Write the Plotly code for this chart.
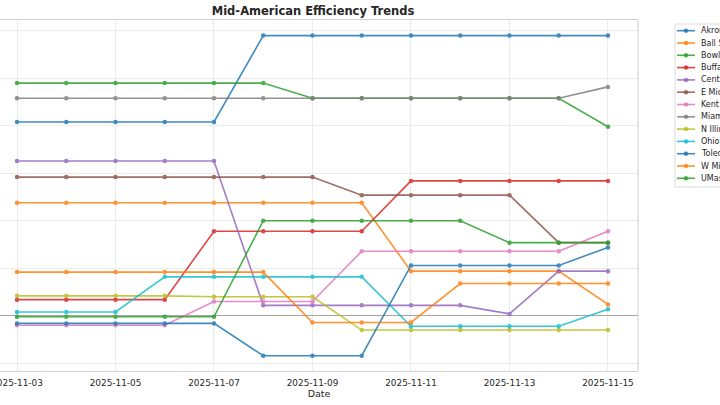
import plotly.graph_objects as go

dates = ["2025-11-03", "2025-11-04", "2025-11-05", "2025-11-06", "2025-11-07",
         "2025-11-08", "2025-11-09", "2025-11-10", "2025-11-11", "2025-11-12",
         "2025-11-13", "2025-11-14", "2025-11-15"]

teams = ["Akron", "Ball State", "Bowling Green", "Buffalo", "Central Michigan",
         "E Michigan", "Kent State", "Miami (OH)", "N Illinois", "Ohio",
         "Toledo", "W Michigan", "UMass"]

akron = [0.204, 0.204, 0.204, 0.204, 0.204, 0.295, 0.295, 0.295, 0.295, 0.295, 0.295, 0.295, 0.295]
ball_state = [0.119, 0.119, 0.119, 0.119, 0.119, 0.119, 0.119, 0.119, 0.047, 0.047, 0.047, 0.047, 0.012]
bowling_green = [0.245, 0.245, 0.245, 0.245, 0.245, 0.245, 0.229, 0.229, 0.229, 0.229, 0.229, 0.229, 0.199]
buffalo = [0.017, 0.017, 0.017, 0.017, 0.089, 0.089, 0.089, 0.089, 0.142, 0.142, 0.142, 0.142, 0.142]
central_mich = [0.163, 0.163, 0.163, 0.163, 0.163, 0.011, 0.011, 0.011, 0.011, 0.011, 0.002, 0.047, 0.047]
e_mich = [0.146, 0.146, 0.146, 0.146, 0.146, 0.146, 0.146, 0.127, 0.127, 0.127, 0.127, 0.077, 0.077]
kent_state = [-0.010, -0.010, -0.010, -0.010, 0.015, 0.015, 0.015, 0.068, 0.068, 0.068, 0.068, 0.068, 0.089]
miami = [0.229, 0.229, 0.229, 0.229, 0.229, 0.229, 0.229, 0.229, 0.229, 0.229, 0.229, 0.229, 0.241]
n_illinois = [0.021, 0.021, 0.021, 0.021, 0.020, 0.020, 0.020, -0.015, -0.015, -0.015, -0.015, -0.015, -0.015]
ohio = [0.004, 0.004, 0.004, 0.041, 0.041, 0.041, 0.041, 0.041, -0.011, -0.011, -0.011, -0.011, 0.007]
toledo = [-0.008, -0.008, -0.008, -0.008, -0.008, -0.042, -0.042, -0.042, 0.053, 0.053, 0.053, 0.053, 0.072]
w_mich = [0.046, 0.046, 0.046, 0.046, 0.046, 0.046, -0.007, -0.007, -0.007, 0.034, 0.034, 0.034, 0.034]
umass = [-0.001, -0.001, -0.001, -0.001, -0.001, 0.100, 0.100, 0.100, 0.100, 0.100, 0.077, 0.077, 0.077]

series = [akron, ball_state, bowling_green, buffalo, central_mich, e_mich, kent_state,
          miami, n_illinois, ohio, toledo, w_mich, umass]

colors = ["#1f77b4", "#ff7f0e", "#2ca02c", "#d62728", "#9467bd", "#8c564b", "#e377c2",
          "#7f7f7f", "#bcbd22", "#17becf", "#1f77b4", "#ff7f0e", "#2ca02c"]

fig = go.Figure()
for name, vals, col in zip(teams, series, colors):
    fig.add_trace(go.Scatter(
        x=dates, y=vals, name=name, mode="lines+markers",
        line=dict(color=col, width=1.6),
        marker=dict(color=col, size=4.5),
        opacity=0.85, showlegend=False,
    ))

# plot area in pixels (for the hand-made legend)
W, H = 720, 405
L, R, T, B = 0, 82, 20, 34
pw, ph = W - L - R, H - T - B


def px(x):
    return (x - L) / pw


def py(y):
    return (H - B - y) / ph


# legend box (matplotlib style, spills off the right edge)
shapes = [dict(type="rect", xref="paper", yref="paper",
               x0=px(675), x1=px(760), y0=py(187), y1=py(24),
               line=dict(color="#dcdcdc", width=1), fillcolor="white", layer="above")]
annotations = []
for i, (name, col) in enumerate(zip(teams, colors)):
    yy = 30.7 + 12.3 * i
    shapes.append(dict(type="line", xref="paper", yref="paper",
                       x0=px(677), x1=px(695), y0=py(yy), y1=py(yy),
                       line=dict(color=col, width=1.6), opacity=0.85, layer="above"))
    shapes.append(dict(type="circle", xref="paper", yref="paper",
                       x0=px(684), x1=px(688), y0=py(yy + 2), y1=py(yy - 2),
                       line=dict(color=col, width=0.5), fillcolor=col, opacity=0.85,
                       layer="above"))
    annotations.append(dict(xref="paper", yref="paper", x=px(699), y=py(yy),
                            text=name, showarrow=False, xanchor="left", yanchor="middle",
                            font=dict(size=8, color="#262626")))

# right spine
shapes.append(dict(type="line", xref="paper", yref="paper", x0=1, x1=1, y0=0, y1=1,
                   line=dict(color="#d0d0d0", width=1)))

fig.update_layout(
    width=W, height=H,
    margin=dict(l=L, r=R, t=T, b=B, autoexpand=False),
    paper_bgcolor="white", plot_bgcolor="white",
    font=dict(family="DejaVu Sans", color="#262626"),
    title=dict(text="<b>Mid-American Efficiency Trends</b>", x=313 / W, xanchor="center",
               y=1 - 11 / H, yanchor="middle", font=dict(size=11.5, color="#262626")),
    xaxis=dict(
        range=["2025-11-02 15:43", "2025-11-15 14:38"],
        tickvals=["2025-11-03", "2025-11-05", "2025-11-07", "2025-11-09",
                  "2025-11-11", "2025-11-13", "2025-11-15"],
        tickformat="%Y-%m-%d", tickfont=dict(size=8.9),
        ticklabeloverflow="allow", automargin=False, ticklabelstandoff=3,
        showgrid=True, gridcolor="#ebebeb", gridwidth=1,
        showline=True, mirror=True, linecolor="#d0d0d0", linewidth=1,
        ticks="", title=dict(text="Date", font=dict(size=9.5), standoff=0),
    ),
    yaxis=dict(
        range=[-0.0581, 0.3114], tick0=0, dtick=0.05,
        showticklabels=False, ticks="", automargin=False,
        showgrid=True, gridcolor="#ebebeb", gridwidth=1,
        zeroline=True, zerolinecolor="#a6a6a6", zerolinewidth=1,
        showline=False,
    ),
    shapes=shapes,
    annotations=annotations,
)

# drop the page's default 8px body margin so the figure sits at the window corner
fig.write_html("out.html", config={"displayModeBar": False},
               post_script="document.body.style.margin = '0';")
